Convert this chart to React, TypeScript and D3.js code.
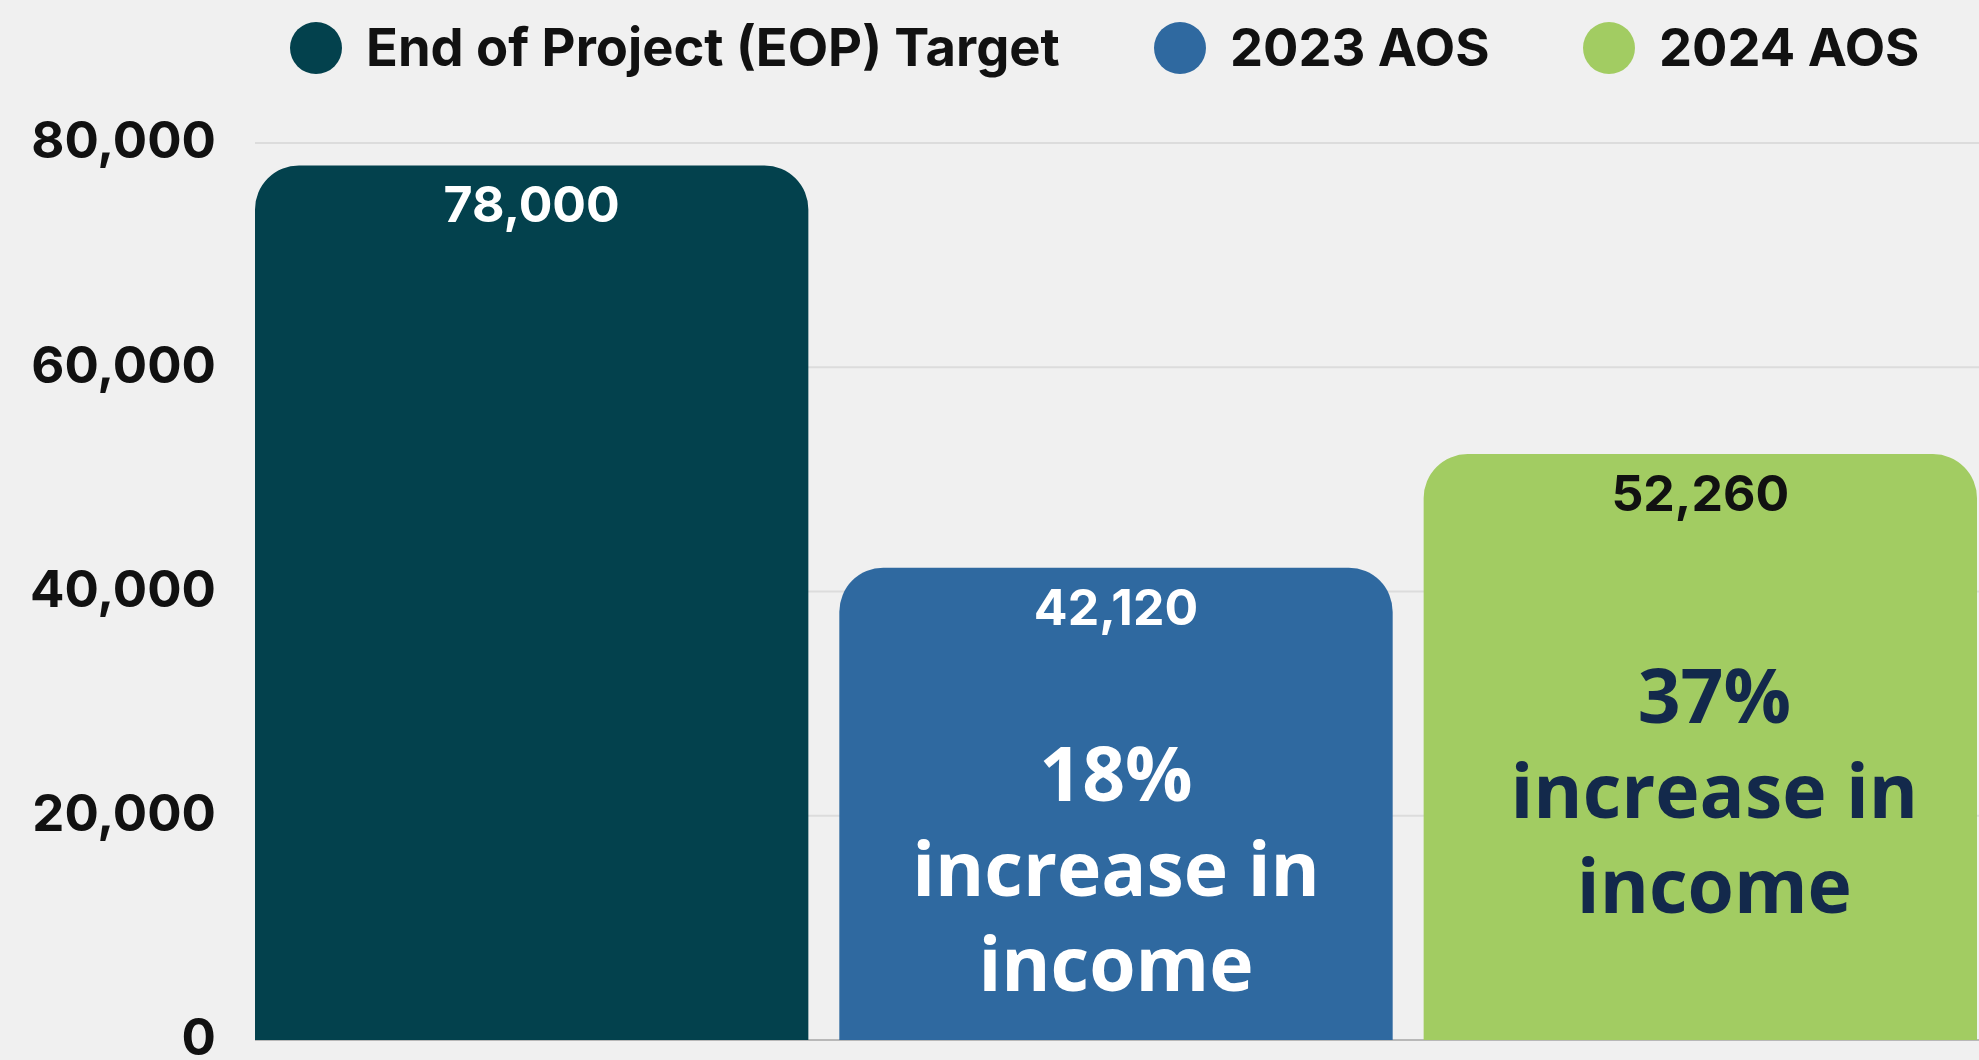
import React from 'react';
import * as d3 from 'd3';

const categories = [ 'End of Project (EOP) Target', '2023 AOS', '2024 AOS' ];
const values = [ 78000, 42120, 52260 ];
const colours = [ '#03414d', '#2f69a0', '#a2cc62' ];
const labelColours = [ '#ffffff', '#ffffff', '#111111' ];
const yTicks = [ 0, 20000, 40000, 60000, 80000 ];
const notes = [ [], [ '18%', 'increase in', 'income' ], [ '37%', 'increase in', 'income' ] ];
const noteAt = [ 0, 21300, 28300 ];
const noteShift = [ 0, 0, 14 ];
const noteColours = [ '#ffffff', '#ffffff', '#13294b' ];
const legendX = [ 316, 1180, 1609 ];

const W = 1979,
	H = 1060;

const App = () => {
	const fmt = d3.format( ',' ),
		x = d3.scaleBand<string>().domain( categories ).range( [ 255, 1977 ] ).paddingInner( 0.053 ),
		y = d3.scaleLinear().domain( [ 0, 80000 ] ).range( [ 1040, 143 ] ),
		r = 44;

	const barPath = ( i: number ) => {
		const x0 = x( categories[ i ] )!,
			x1 = x0 + x.bandwidth(),
			y0 = y( 0 ),
			y1 = y( values[ i ] );
		return `M${x0},${y0}V${y1 + r}A${r},${r} 0 0 1 ${x0 + r},${y1}H${x1 - r}A${r},${r} 0 0 1 ${x1},${y1 + r}V${y0}Z`;
	};

	return (
		<svg width={W} height={H} style={{ position: 'absolute', left: 0, top: 0, background: '#f0f0f0' }}
			fontFamily="Inter, 'Noto Sans', sans-serif">
			<rect width={W} height={H} fill="#f0f0f0" />
			{yTicks.map( ( t ) => (
				<g key={t}>
					<line x1={255} x2={W} y1={y( t )} y2={y( t )} stroke={t === 0 ? '#b8b8b8' : '#dcdcdc'} strokeWidth={2} />
					<text x={216} y={y( t )} dy="0.3em" textAnchor="end" fontSize={51} fontWeight={700} fill="#111">
						{fmt( t )}
					</text>
				</g>
			) )}
			{categories.map( ( c, i ) => (
				<g key={c}>
					<path d={barPath( i )} fill={colours[ i ]} />
					<text x={x( c )! + x.bandwidth() / 2} y={y( values[ i ] ) + 57} textAnchor="middle"
						fontSize={50} fontWeight={700} fill={labelColours[ i ]}>
						{fmt( values[ i ] )}
					</text>
					{notes[ i ].map( ( line, j ) => (
						<text key={j} x={x( c )! + x.bandwidth() / 2 + noteShift[ i ]} y={y( noteAt[ i ] ) + j * 95}
							textAnchor="middle" fontFamily="'Open Sans', sans-serif" fontSize={75} fontWeight={700}
							fill={noteColours[ i ]}>
							{line}
						</text>
					) )}
				</g>
			) )}
			{categories.map( ( c, i ) => (
				<g key={'lg' + c}>
					<circle cx={legendX[ i ]} cy={48} r={26} fill={colours[ i ]} />
					<text x={legendX[ i ] + 50} y={66} fontSize={52.5} fontWeight={700} fill="#111">
						{c}
					</text>
				</g>
			) )}
		</svg>
	);
};

export default App;
